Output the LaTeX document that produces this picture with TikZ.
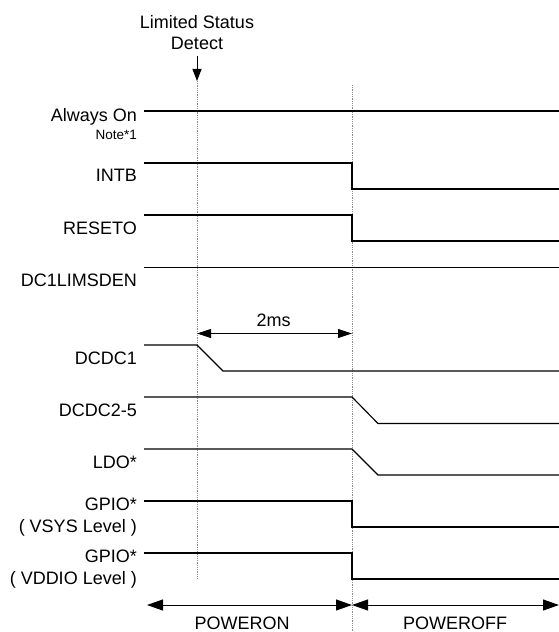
\documentclass[tikz,border=0pt]{standalone}
\usepackage{fontspec}
\setmainfont{Liberation Sans}
\usetikzlibrary{arrows.meta}
\begin{document}
\begin{tikzpicture}[x=1bp,y=-1bp,
  sig/.style={line width=1.15bp, line join=miter, draw=black},
  guide/.style={draw=black!45, line width=0.8bp, dash pattern=on 0.9bp off 0.9bp},
  lbl/.style={anchor=base east, inner sep=0pt, font=\fontsize{18bp}{21bp}\selectfont},
  ctr/.style={anchor=base, inner sep=0pt, font=\fontsize{18bp}{21bp}\selectfont},
  small/.style={anchor=base east, inner sep=0pt, font=\fontsize{13.5bp}{16bp}\selectfont},
  dim/.style={line width=1bp, {Triangle[length=14bp,width=9bp]}-{Triangle[length=14bp,width=9bp]}},
  phase/.style={line width=1bp, {Triangle[length=16bp,width=11bp]}-{Triangle[length=16bp,width=11bp]}},
  evarrow/.style={line width=1bp, -{Triangle[length=12bp,width=9bp]}}
]
\useasboundingbox (0,0) rectangle (559,632);

% time markers
\coordinate (atop) at (197,56);
\coordinate (t1top) at (197,81);
\coordinate (t1bot) at (197,578);
\coordinate (t2top) at (352,85);
\coordinate (t2bot) at (352,632);
\draw[guide] (t1top) -- (t1bot);
\draw[guide] (t2top) -- (t2bot);

% event label and arrow
\node[ctr] (lim1) at (197,28.3) {Limited Status};
\node[ctr] (lim2) at (197,50) {Detect};
\draw[evarrow] (atop) -- (t1top);

% signal labels
\node[lbl] (l1) at (137,122) {Always On};
\node[small] (l1n) at (137,140) {Note*1};
\node[lbl] (l2) at (137,182) {INTB};
\node[lbl] (l3) at (137,234) {RESETO};
\node[lbl] (l4) at (137,286) {DC1LIMSDEN};
\node[lbl] (l5) at (137,364) {DCDC1};
\node[lbl] (l6) at (137,416.5) {DCDC2-5};
\node[lbl] (l7) at (137,468.5) {LDO*};
\node[lbl] (l8) at (137,510.5) {GPIO*};
\node[lbl] (l8b) at (137,532) {( VSYS Level )};
\node[lbl] (l9) at (137,562.5) {GPIO*};
\node[lbl] (l9b) at (137,584) {( VDDIO Level )};

% waveforms
\draw[sig] (144,111) -- (559,111);
\draw[sig] (144,163) -- (352,163) -- (352,189) -- (559,189);
\draw[sig] (144,215) -- (352,215) -- (352,241) -- (559,241);
\draw[sig] (144,267.5) -- (559,267.5);
\draw[sig] (144,345) -- (197,345) -- (223,371) -- (559,371);
\draw[sig] (144,397) -- (352,397) -- (378,423.5) -- (559,423.5);
\draw[sig] (144,449) -- (352,449) -- (378,475) -- (559,475);
\draw[sig] (144,501) -- (352,501) -- (352,527) -- (559,527);
\draw[sig] (144,553) -- (352,553) -- (352,579) -- (559,579);

% 2ms dimension
\coordinate (d1) at (197,333.5);
\coordinate (d2) at (352,333.5);
\draw[dim] (d1) -- (d2);
\node[ctr] (dl) at (273.7,326) {2ms};

% phases
\coordinate (p0) at (147,605);
\coordinate (p1) at (352,605);
\coordinate (p2) at (559,605);
\draw[phase] (p0) -- (p1);
\draw[phase] (p1) -- (p2);
\node[ctr] (on) at (242,629) {POWERON};
\node[ctr] (off) at (455,629) {POWEROFF};
\end{tikzpicture}
\end{document}
